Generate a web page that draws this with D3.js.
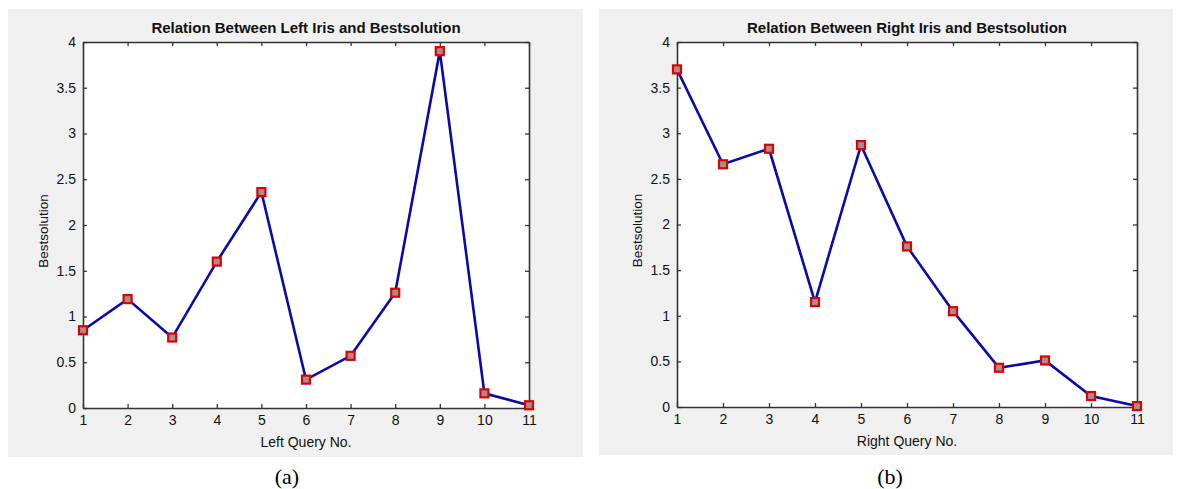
<!DOCTYPE html>
<html>
<head>
<meta charset="utf-8">
<script src="https://cdn.jsdelivr.net/npm/d3@7"></script>
<style>
  body { margin: 0; background: #fff; }
  text { font-family: Arial, "Liberation Sans", sans-serif; }
  text.caption { font-family: "Liberation Serif", "Times New Roman", serif; }
</style>
</head>
<body>
<svg id="chart" width="1179" height="489"></svg>
<script>
// query numbers on x axis
var queries = [1, 2, 3, 4, 5, 6, 7, 8, 9, 10, 11];
// Bestsolution values
var leftValues = [0.85, 1.19, 0.77, 1.60, 2.36, 0.31, 0.57, 1.26, 3.90, 0.16, 0.03];
var rightValues = [3.70, 2.66, 2.83, 1.15, 2.87, 1.76, 1.05, 0.43, 0.51, 0.12, 0.01];
var yTicks = [0, 0.5, 1, 1.5, 2, 2.5, 3, 3.5, 4];

var svg = d3.select("#chart");

function drawPanel(opt) {
  // gray figure background
  svg.append("rect")
    .attr("x", opt.bx).attr("y", opt.by)
    .attr("width", opt.bw).attr("height", opt.bh)
    .attr("fill", "#f0f0f0");

  var g = svg.append("g");

  var x = d3.scaleLinear().domain([1, 11]).range([opt.left, opt.right]);
  var y = d3.scaleLinear().domain([0, 4]).range([opt.bottom, opt.top]);

  g.append("rect")
    .attr("x", opt.left).attr("y", opt.top)
    .attr("width", opt.right - opt.left).attr("height", opt.bottom - opt.top)
    .attr("fill", "#fff");

  // bottom axis
  var xa = g.append("g")
    .attr("transform", "translate(0," + opt.bottom + ")")
    .call(d3.axisBottom(x).tickValues(queries).tickFormat(d3.format("d"))
      .tickSizeInner(-4).tickSizeOuter(0).tickPadding(7));
  // left axis
  var ya = g.append("g")
    .attr("transform", "translate(" + opt.left + ",0)")
    .call(d3.axisLeft(y).tickValues(yTicks).tickFormat(function(d) { return d; })
      .tickSizeInner(-4).tickSizeOuter(0).tickPadding(7));
  // top and right axes (ticks only)
  var ta = g.append("g")
    .attr("transform", "translate(0," + opt.top + ")")
    .call(d3.axisTop(x).tickValues(queries).tickFormat("")
      .tickSizeInner(-4).tickSizeOuter(0));
  var ra = g.append("g")
    .attr("transform", "translate(" + opt.right + ",0)")
    .call(d3.axisRight(y).tickValues(yTicks).tickFormat("")
      .tickSizeInner(-4).tickSizeOuter(0));

  [xa, ya, ta, ra].forEach(function(a) {
    a.select(".domain").attr("stroke", "#333").attr("stroke-width", 1.6);
    a.selectAll(".tick line").attr("stroke", "#333").attr("stroke-width", 1.3);
    a.selectAll("text").attr("font-size", 14).attr("fill", "#111");
  });

  // line
  var line = d3.line()
    .x(function(d, i) { return x(queries[i]); })
    .y(function(d) { return y(d); });

  g.append("path")
    .datum(opt.values)
    .attr("d", line)
    .attr("fill", "none")
    .attr("stroke", "#0a0aa8")
    .attr("stroke-width", 2.6);

  g.selectAll(".mk")
    .data(opt.values)
    .enter().append("rect")
    .attr("class", "mk")
    .attr("x", function(d, i) { return x(queries[i]) - 4; })
    .attr("y", function(d) { return y(d) - 4; })
    .attr("width", 8).attr("height", 8)
    .attr("fill", "#a09090")
    .attr("stroke", "#e00000")
    .attr("stroke-width", 2.2);

  // title
  g.append("text")
    .attr("x", (opt.left + opt.right) / 2)
    .attr("y", opt.top - 9)
    .attr("text-anchor", "middle")
    .attr("font-size", 15)
    .attr("font-weight", "bold")
    .attr("fill", "#111")
    .text(opt.title);

  // x label
  g.append("text")
    .attr("x", (opt.left + opt.right) / 2)
    .attr("y", opt.bottom + 39)
    .attr("text-anchor", "middle")
    .attr("font-size", 14)
    .attr("fill", "#111")
    .text(opt.xlabel);

  // y label
  g.append("text")
    .attr("transform", "translate(" + (opt.left - 35) + "," + ((opt.top + opt.bottom) / 2 + 6) + ") rotate(-90)")
    .attr("text-anchor", "middle")
    .attr("font-size", 13.5)
    .attr("fill", "#111")
    .text("Bestsolution");

  // caption
  svg.append("text")
    .attr("class", "caption")
    .attr("x", opt.capx)
    .attr("y", 484)
    .attr("text-anchor", "middle")
    .attr("font-size", 22)
    .attr("fill", "#000")
    .text(opt.caption);
}

drawPanel({
  bx: 8, by: 9, bw: 575, bh: 448,
  left: 83, right: 529, top: 42, bottom: 408,
  values: leftValues,
  title: "Relation Between Left Iris and Bestsolution",
  xlabel: "Left Query No.",
  caption: "(a)", capx: 287
});

drawPanel({
  bx: 599, by: 9, bw: 574, bh: 446,
  left: 677, right: 1137, top: 42, bottom: 407,
  values: rightValues,
  title: "Relation Between Right Iris and Bestsolution",
  xlabel: "Right Query No.",
  caption: "(b)", capx: 890
});
</script>
</body>
</html>
